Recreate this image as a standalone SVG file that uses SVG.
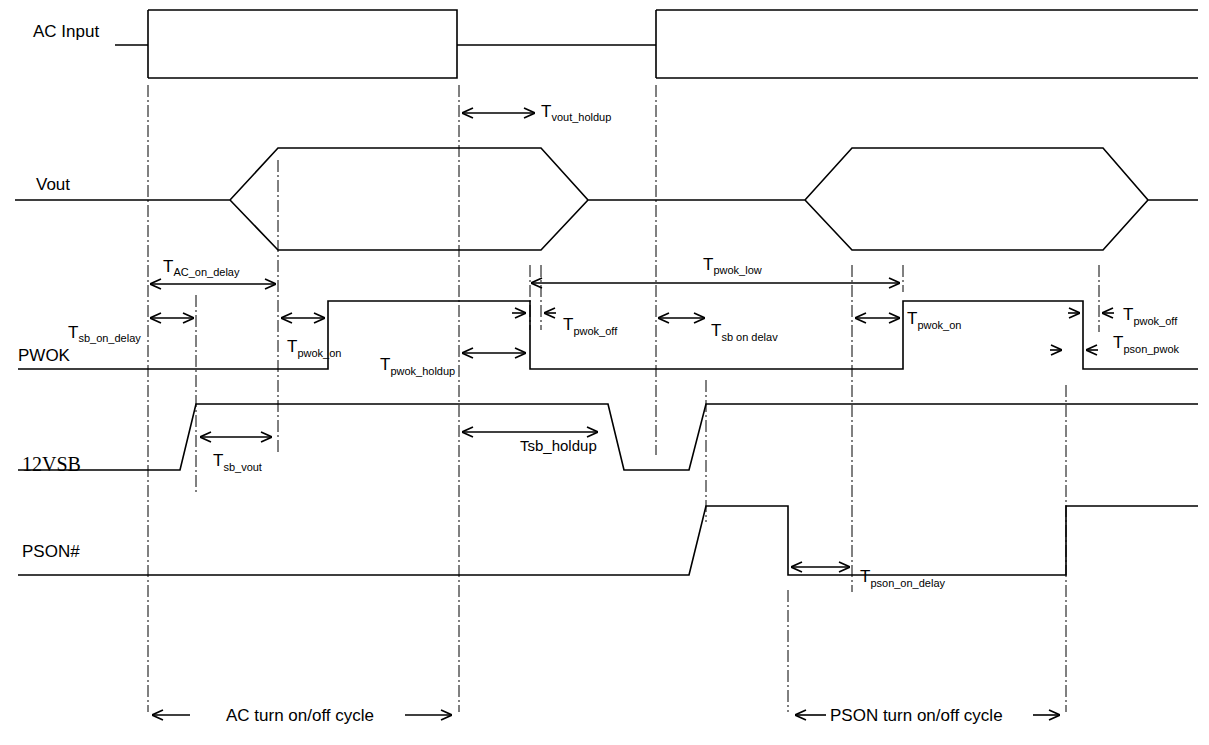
<svg xmlns="http://www.w3.org/2000/svg" width="1209" height="745" viewBox="0 0 1209 745">
<defs>
<marker id="ah" viewBox="0 0 12 12" refX="12" refY="6" markerWidth="12" markerHeight="12" markerUnits="userSpaceOnUse" orient="auto-start-reverse"><path d="M1,1 L12,6 L1,11" fill="none" stroke="#000" stroke-width="1.6"/></marker>
</defs>
<style>
.s{fill:none;stroke:#000;stroke-width:1.6}
.d{fill:none;stroke:#000;stroke-width:1;stroke-dasharray:12,3,2,3}
.a{fill:none;stroke:#000;stroke-width:1.6;marker-end:url(#ah)}
.b{fill:none;stroke:#000;stroke-width:1.6;marker-start:url(#ah);marker-end:url(#ah)}
text{font-family:"Liberation Sans",Arial,sans-serif;font-size:17px;fill:#000}
.sub{font-size:11px}
</style>
<rect width="1209" height="745" fill="#fff"/>
<g id="signals">
<g id="ac"><text x="33" y="37">AC Input</text>
<path class="s" d="M115,45H148M148,10V78M148,10H457V78H148M457,45H656M656,10V78M656,10H1198M656,78H1198"/></g>
<g id="vout"><text x="36" y="190">Vout</text>
<path class="s" d="M15,200H230L278,148H541L588,200L541,250H278L230,200M588,200H805L852,148H1103L1148,200L1103,250H852L805,200M1148,200H1198"/></g>
<g id="pwok"><text x="18" y="361">PWOK</text>
<path class="s" d="M18,369H328V301H530V369H903V301H1083V369H1198"/></g>
<g id="vsb"><text x="22" y="471" style="font-family:'Liberation Serif',serif;font-size:20px">12VSB</text>
<path class="s" d="M18,470H180L196,404H608L624,470H689L706,404H1198"/></g>
<g id="pson"><text x="22" y="557">PSON#</text>
<path class="s" d="M18,575H689L706,506H788V575H1066V506H1198"/></g>
</g>
<g id="connectors">
<path class="d" d="M148,85V712M459,85V712M656,85V455M278,160V455M196,295V492M530,265V330M541,265V330M706,380V522M852,265V592M903,265V292M788,590V712M1066,385V712M1099,265V332"/>
<line class="b" x1="462" y1="113" x2="535" y2="113"/>
<line class="b" x1="150" y1="284" x2="276" y2="284"/>
<line class="b" x1="150" y1="318" x2="194" y2="318"/>
<line class="b" x1="281" y1="318" x2="325" y2="318"/>
<line class="b" x1="462" y1="353" x2="526" y2="353"/>
<line class="a" x1="512" y1="313" x2="526" y2="313"/>
<line class="a" x1="556" y1="313" x2="544" y2="313"/>
<line class="b" x1="531" y1="283" x2="900" y2="283"/>
<line class="b" x1="658" y1="318" x2="705" y2="318"/>
<line class="b" x1="855" y1="318" x2="900" y2="318"/>
<line class="a" x1="1068" y1="313" x2="1080" y2="313"/>
<line class="a" x1="1114" y1="313" x2="1102" y2="313"/>
<line class="a" x1="1050" y1="350" x2="1062" y2="350"/>
<line class="a" x1="1098" y1="350" x2="1086" y2="350"/>
<line class="b" x1="200" y1="437" x2="272" y2="437"/>
<line class="b" x1="462" y1="432" x2="598" y2="432"/>
<line class="b" x1="791" y1="567" x2="850" y2="567"/>
<line class="a" x1="190" y1="715" x2="152" y2="715"/>
<line class="a" x1="405" y1="715" x2="452" y2="715"/>
<line class="a" x1="826" y1="715" x2="795" y2="715"/>
<line class="a" x1="1033" y1="715" x2="1060" y2="715"/>
</g>
<g id="labels">
<text x="541" y="117">T<tspan class="sub" dy="4">vout_holdup</tspan></text>
<text x="163" y="272">T<tspan class="sub" dy="4">AC_on_delay</tspan></text>
<text x="68" y="338">T<tspan class="sub" dy="4">sb_on_delay</tspan></text>
<text x="287" y="352">T<tspan class="sub" dy="5">pwok_on</tspan></text>
<text x="380" y="370">T<tspan class="sub" dy="5">pwok_holdup</tspan></text>
<text x="563" y="330">T<tspan class="sub" dy="5">pwok_off</tspan></text>
<text x="703" y="270">T<tspan class="sub" dy="4">pwok_low</tspan></text>
<text x="711" y="336">T<tspan class="sub" dy="5">sb  on  delav</tspan></text>
<text x="907" y="324">T<tspan class="sub" dy="5">pwok_on</tspan></text>
<text x="1123" y="320">T<tspan class="sub" dy="5">pwok_off</tspan></text>
<text x="1113" y="348">T<tspan class="sub" dy="5">pson_pwok</tspan></text>
<text x="213" y="466">T<tspan class="sub" dy="5">sb_vout</tspan></text>
<text x="520" y="451" style="font-size:15px">Tsb_holdup</text>
<text x="860" y="582">T<tspan class="sub" dy="5">pson_on_delay</tspan></text>
<text x="226" y="721">AC turn on/off cycle</text>
<text x="830" y="721">PSON turn on/off cycle</text>
</g>
</svg>
